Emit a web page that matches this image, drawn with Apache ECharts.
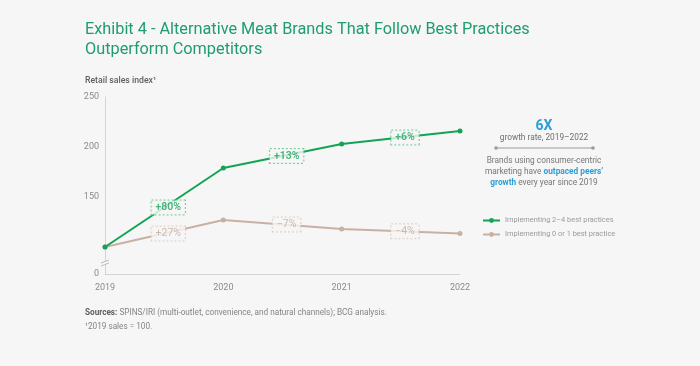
<!DOCTYPE html>
<html><head><meta charset="utf-8">
<script src="https://cdn.jsdelivr.net/npm/echarts@6/dist/echarts.min.js"></script>
<style>html,body{margin:0;padding:0;background:#f6f6f6;}#c{width:700px;height:366px;}</style>
</head><body><div id="c"></div>
<script>
const years = [2019, 2020, 2021, 2022];
const bestPractice = [100, 179, 203, 216];
const fewPractice = [100, 127, 118, 113.5];
const bestGrowth = ['+80%', '+13%', '+6%'];
const fewGrowth = ['+27%', '\u22127%', '\u22124%'];
const yTicks = [73, 150, 200, 250];
const seriesNames = ['Implementing 2\u20134 best practices', 'Implementing 0 or 1 best practice'];

const GREEN = '#12a354', BEIGE = '#c8b1a3';
const FONT = 'Roboto, "Noto Sans", sans-serif';

function pairs(vals){ return years.map((y,i)=>[y, vals[i]]); }
function mids(vals, labels){
  const out = [];
  for (let i=0;i<years.length-1;i++){
    out.push([(years[i]+years[i+1])/2 + 0.035, (vals[i]+vals[i+1])/2, labels[i]]);
  }
  return out;
}
function boxSeries(vals, labels, color, border, bold){
  return {
    type:'scatter', data: mids(vals, labels), symbolSize: 0, silent:true, z:5,
    label:{show:true, position:'inside', formatter: p=>p.data[2], color: color,
      fontSize:10.5, fontWeight: bold?600:400, fontFamily: FONT,
      backgroundColor:'#f6f6f6', borderColor:border, borderWidth:1, borderType:[2,2],
      padding:[2,4,1,4]}
  };
}

const chart = echarts.init(document.getElementById('c'), null, {renderer:'canvas'});
chart.setOption({
  backgroundColor:'#f6f6f6',
  animation:false,
  grid:{left:105, right:240, top:97, bottom:92, containLabel:false},
  xAxis:{type:'value', min:2019, max:2022, interval:1,
    axisLine:{show:true, lineStyle:{color:'#d4d4d4', width:1}},
    axisTick:{show:false}, splitLine:{show:false},
    axisLabel:{formatter:v=>String(v), color:'#8a8a8a', fontSize:9, fontFamily:FONT, margin:9}},
  yAxis:{type:'value', min:73, max:250,
    axisLine:{show:true, lineStyle:{color:'#d4d4d4', width:1}},
    axisTick:{show:false}, splitLine:{show:false},
    axisLabel:{customValues:yTicks, formatter:v=> v===73?'0':String(v), color:'#8a8a8a', fontSize:9, fontFamily:FONT, margin:6}},
  legend:{left:482, top:217, padding:0, orient:'vertical', itemWidth:17, itemHeight:6, itemGap:7,
    textStyle:{color:'#9a9a9a', fontSize:7.4, fontFamily:FONT},
    data: seriesNames},
  series:[
    {name:seriesNames[0], type:'line', data:pairs(bestPractice), symbol:'circle', symbolSize:5,
     itemStyle:{color:GREEN}, lineStyle:{color:GREEN, width:2}, z:3},
    {name:seriesNames[1], type:'line', data:pairs(fewPractice), symbol:'circle', symbolSize:5,
     itemStyle:{color:BEIGE}, lineStyle:{color:BEIGE, width:2}, z:2},
    boxSeries(bestPractice, bestGrowth, '#1ea35c', '#5cc48a', true),
    boxSeries(fewPractice, fewGrowth, '#c3ab9d', '#d9c8bd', false)
  ]
});

const brk = chart.convertToPixel({gridIndex:0}, [2019, 85]);
const bx = brk[0], by = brk[1];
chart.setOption({graphic:[
  {type:'text', left:85, top:20, style:{text:'Exhibit 4 - Alternative Meat Brands That Follow Best Practices\nOutperform Competitors',
    fill:'#1f9d6e', fontSize:16.3, fontFamily:FONT, lineHeight:20}},
  {type:'text', left:85, top:76, style:{text:'Retail sales index\u00b9', fill:'#5f5f5f', fontSize:8.7, fontWeight:500, fontFamily:FONT}},
  {type:'polygon', shape:{points:[[bx-4,by+1],[bx+4,by-2],[bx+4,by+1],[bx-4,by+4]]}, style:{fill:'#f6f6f6'}, z:10},
  {type:'line', shape:{x1:bx-4,y1:by+1,x2:bx+4,y2:by-2}, style:{stroke:'#bdbdbd', lineWidth:1}, z:11},
  {type:'line', shape:{x1:bx-4,y1:by+4,x2:bx+4,y2:by+1}, style:{stroke:'#bdbdbd', lineWidth:1}, z:11},
  {type:'text', x:544, y:119, style:{text:'6X', fill:'#2a9fd8', fontSize:14, fontWeight:'bold', fontFamily:FONT, align:'center'}},
  {type:'text', x:544, y:134, style:{text:'growth rate, 2019\u20132022', fill:'#6f6f6f', fontSize:8.3, fontFamily:FONT, align:'center'}},
  {type:'line', shape:{x1:496,y1:148,x2:593,y2:148}, style:{stroke:'#9a9a9a', lineWidth:1}},
  {type:'circle', shape:{cx:496,cy:148,r:1.8}, style:{fill:'#9a9a9a'}},
  {type:'circle', shape:{cx:593,cy:148,r:1.8}, style:{fill:'#9a9a9a'}},
  {type:'text', x:544, y:155, style:{
    text:'Brands using consumer-centric\n{n|marketing have }{b|outpaced peers\u2019}\n{b|growth}{n| every year since 2019}',
    fill:'#777777', fontSize:8.3, fontFamily:FONT, align:'center', lineHeight:11,
    rich:{n:{fill:'#777777', fontSize:8.3, fontFamily:FONT, lineHeight:11}, b:{fill:'#2a9fd8', fontSize:8.3, fontWeight:'bold', fontFamily:FONT, lineHeight:11}}}},
  {type:'text', left:85, top:309, style:{text:'{b|Sources:} SPINS/IRI (multi-outlet, convenience, and natural channels); BCG analysis.',
    fill:'#858585', fontSize:8.2, fontFamily:FONT, rich:{b:{fill:'#5f5f5f', fontWeight:'bold', fontSize:8.2, fontFamily:FONT}}}},
  {type:'text', left:85, top:323, style:{text:'\u00b92019 sales = 100.', fill:'#858585', fontSize:8.2, fontFamily:FONT}}
]});
</script></body></html>
